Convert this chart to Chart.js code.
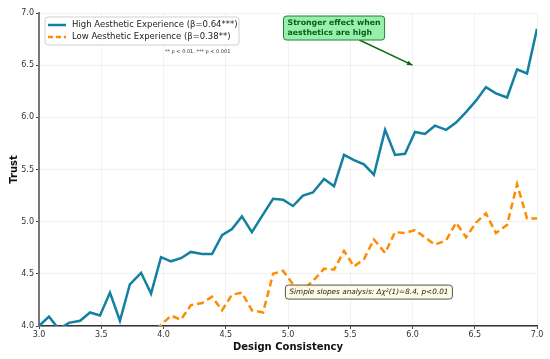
<!DOCTYPE html>
<html>
<head>
<meta charset="utf-8">
<script src="https://cdn.jsdelivr.net/npm/chart.js@4/dist/chart.umd.min.js"></script>
<style>
  html, body { margin: 0; padding: 0; background: #fff; }
  #wrap { width: 550px; height: 359px; }
</style>
</head>
<body>
<div id="wrap"><canvas id="trustChart" width="550" height="359"></canvas></div>
<script>
// Design consistency (x) and the two simple-slope lines
const designConsistency = [3.00, 3.08, 3.16, 3.24, 3.33, 3.41, 3.49, 3.57, 3.65, 3.73,
  3.82, 3.90, 3.98, 4.06, 4.14, 4.22, 4.31, 4.39, 4.47, 4.55,
  4.63, 4.71, 4.80, 4.88, 4.96, 5.04, 5.12, 5.20, 5.29, 5.37,
  5.45, 5.53, 5.61, 5.69, 5.78, 5.86, 5.94, 6.02, 6.10, 6.18,
  6.27, 6.35, 6.43, 6.51, 6.59, 6.67, 6.76, 6.84, 6.92, 7.00];
const highTrust = [4.00, 4.09, 3.97, 4.03, 4.05, 4.13, 4.10, 4.32, 4.05, 4.40,
  4.51, 4.31, 4.66, 4.62, 4.65, 4.71, 4.69, 4.69, 4.87, 4.93,
  5.05, 4.90, 5.07, 5.22, 5.21, 5.15, 5.25, 5.28, 5.41, 5.34,
  5.64, 5.59, 5.55, 5.45, 5.88, 5.64, 5.65, 5.86, 5.84, 5.92,
  5.88, 5.95, 6.05, 6.16, 6.29, 6.23, 6.19, 6.46, 6.42, 6.85];
const lowTrust = [3.55, 3.62, 3.58, 3.70, 3.66, 3.75, 3.72, 3.80, 3.78, 3.86,
  3.84, 3.92, 4.01, 4.10, 4.06, 4.20, 4.22, 4.28, 4.15, 4.30,
  4.32, 4.15, 4.13, 4.50, 4.53, 4.40, 4.35, 4.43, 4.55, 4.54,
  4.72, 4.57, 4.64, 4.83, 4.70, 4.90, 4.89, 4.92, 4.85, 4.78,
  4.82, 4.99, 4.85, 4.99, 5.08, 4.89, 4.97, 5.36, 5.03, 5.03];
const seriesLabels = ['High Aesthetic Experience (β=0.64***)', 'Low Aesthetic Experience (β=0.38**)'];
const tickX = { min: 3, max: 7, step: 0.5 };
const tickY = { min: 4, max: 7, step: 0.5 };

const FONT = '"DejaVu Sans", Verdana, sans-serif';
const HIGH_COLOR = '#13809f';
const LOW_COLOR = '#ff8c00';

const toPoints = ys => designConsistency.map((x, i) => ({ x: x, y: ys[i] }));

// legend, p-value note and the two annotation boxes
const overlayPlugin = {
    id: 'overlays',
    afterDraw(chart) {
        const ctx = chart.ctx;
        const xs = chart.scales.x, ys = chart.scales.y;
        const area = chart.chartArea;
        ctx.save();

        // legend box
        const lx = area.left + 6, ly = area.top + 4;
        ctx.beginPath();
        ctx.roundRect(lx, ly, 194, 28, 3);
        ctx.fillStyle = 'rgba(255,255,255,0.85)';
        ctx.fill();
        ctx.strokeStyle = '#d0d0d0';
        ctx.lineWidth = 1;
        ctx.stroke();
        ctx.font = '8.5px ' + FONT;
        ctx.textBaseline = 'middle';
        ctx.fillStyle = '#222';
        [[HIGH_COLOR, [], 8], [LOW_COLOR, [5, 3], 20]].forEach((s, i) => {
            ctx.beginPath();
            ctx.setLineDash(s[1]);
            ctx.strokeStyle = s[0];
            ctx.lineWidth = 2.5;
            ctx.moveTo(lx + 3, ly + s[2]);
            ctx.lineTo(lx + 21, ly + s[2]);
            ctx.stroke();
            ctx.setLineDash([]);
            ctx.fillText(seriesLabels[i], lx + 27, ly + s[2]);
        });

        // significance note
        ctx.font = '5px ' + FONT;
        ctx.fillStyle = '#333';
        ctx.fillText('** p < 0.01, *** p < 0.001', 165, 52);

        // green callout with arrow
        const gx = xs.getPixelForValue(5.37), gy = ys.getPixelForValue(6.856);
        const tx = xs.getPixelForValue(6.0), ty = ys.getPixelForValue(6.5);
        ctx.font = 'bold 7.8px ' + FONT;
        const gl = ['Stronger effect when', 'aesthetics are high'];
        const gw = Math.max(...gl.map(t => ctx.measureText(t).width)) + 8;
        const gh = 24;
        const bx = gx - gw / 2, by = gy - gh / 2;
        const sy = by + gh, sx = gx + (tx - gx) * (sy - gy) / (ty - gy);
        ctx.strokeStyle = '#0b6b12';
        ctx.fillStyle = '#0b6b12';
        ctx.lineWidth = 1.5;
        ctx.beginPath();
        ctx.moveTo(sx, sy);
        ctx.lineTo(tx, ty);
        ctx.stroke();
        const ang = Math.atan2(ty - sy, tx - sx);
        ctx.beginPath();
        ctx.moveTo(tx, ty);
        ctx.lineTo(tx - 6 * Math.cos(ang - 0.4), ty - 6 * Math.sin(ang - 0.4));
        ctx.lineTo(tx - 6 * Math.cos(ang + 0.4), ty - 6 * Math.sin(ang + 0.4));
        ctx.closePath();
        ctx.fill();
        ctx.beginPath();
        ctx.roundRect(bx, by, gw, gh, 3);
        ctx.fillStyle = '#95f0ad';
        ctx.fill();
        ctx.strokeStyle = '#2e7d32';
        ctx.lineWidth = 1;
        ctx.stroke();
        ctx.fillStyle = '#0a5d14';
        ctx.textAlign = 'left';
        ctx.fillText(gl[0], bx + 4, by + 7);
        ctx.fillText(gl[1], bx + 4, by + 17);

        // simple slopes box
        const sx2 = xs.getPixelForValue(5.65), sy2 = ys.getPixelForValue(4.325);
        ctx.font = 'italic 7.3px ' + FONT;
        const st = 'Simple slopes analysis: Δχ²(1)=8.4, p<0.01';
        const sw = ctx.measureText(st).width + 8;
        ctx.beginPath();
        ctx.roundRect(sx2 - sw / 2, sy2 - 7, sw, 14, 3);
        ctx.fillStyle = 'rgba(255,250,225,0.9)';
        ctx.fill();
        ctx.strokeStyle = '#555';
        ctx.stroke();
        ctx.fillStyle = '#222';
        ctx.fillText(st, sx2 - sw / 2 + 4, sy2);

        ctx.restore();
    }
};

document.addEventListener('DOMContentLoaded', function () {
    const canvas = document.getElementById('trustChart');
    const ctxTrust = canvas.getContext('2d');
    new Chart(ctxTrust, {
        type: 'line',
        data: {
            datasets: [{
                label: seriesLabels[0],
                data: toPoints(highTrust),
                borderColor: HIGH_COLOR,
                borderWidth: 2.5,
                pointRadius: 0,
                tension: 0
            }, {
                label: seriesLabels[1],
                data: toPoints(lowTrust),
                borderColor: LOW_COLOR,
                borderWidth: 2.5,
                borderDash: [7, 4],
                pointRadius: 0,
                tension: 0
            }]
        },
        options: {
            responsive: false,
            animation: false,
            events: [],
            layout: { padding: { top: 13, right: 13, left: 0, bottom: 0 } },
            plugins: {
                legend: { display: false },
                tooltip: { enabled: false }
            },
            scales: {
                x: {
                    type: 'linear',
                    min: tickX.min,
                    max: tickX.max,
                    afterFit: s => { s.height = 33; },
                    ticks: {
                        stepSize: tickX.step,
                        callback: v => v.toFixed(1),
                        font: { family: FONT, size: 8 },
                        color: '#333',
                        padding: 1,
                        maxRotation: 0
                    },
                    grid: { color: 'rgba(0,0,0,0.05)', tickColor: '#444', tickLength: 3 },
                    border: { color: '#333', width: 1.5 },
                    title: {
                        display: true,
                        text: 'Design Consistency',
                        font: { family: FONT, size: 10, weight: 'bold' },
                        color: '#111',
                        padding: { top: 0, bottom: 6 }
                    }
                },
                y: {
                    min: tickY.min,
                    max: tickY.max,
                    afterFit: s => { s.width = 39; },
                    ticks: {
                        stepSize: tickY.step,
                        callback: v => v.toFixed(1),
                        font: { family: FONT, size: 8 },
                        color: '#333',
                        padding: 2
                    },
                    grid: { color: 'rgba(0,0,0,0.05)', tickColor: '#444', tickLength: 3 },
                    border: { color: '#777', width: 2 },
                    title: {
                        display: true,
                        text: 'Trust',
                        font: { family: FONT, size: 10, weight: 'bold' },
                        color: '#111',
                        padding: { top: 8, bottom: 0 }
                    }
                }
            }
        },
        plugins: [overlayPlugin]
    });
});
</script>
</body>
</html>
